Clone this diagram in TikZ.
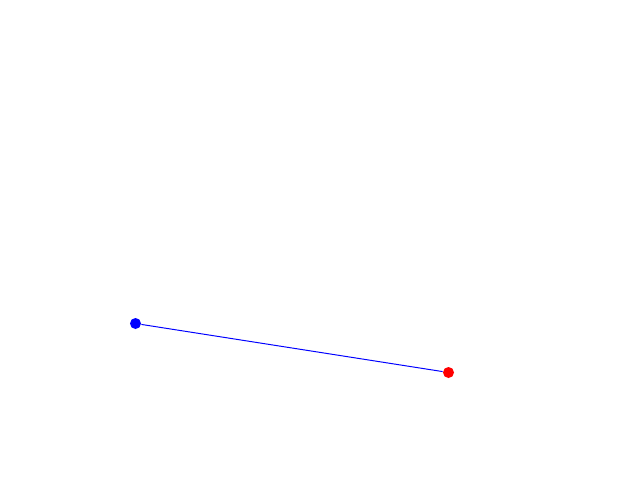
\documentclass[tikz,border=0pt]{standalone}
\usetikzlibrary{shapes}
\tikzstyle{pt} = [circle, inner sep=0pt, minimum size=0.275cm]

\begin{document}
\begin{tikzpicture}[x=0.025cm,y=-0.025cm,line width=0.7pt]
  \useasboundingbox (0,0) rectangle (640,480);

  \node[pt,fill=blue] (P) at (135.5,323.5) {};
  \node[pt,fill=red]  (Q) at (448.5,372.5) {};

  \draw[blue] (P) -- (Q);
\end{tikzpicture}
\end{document}
